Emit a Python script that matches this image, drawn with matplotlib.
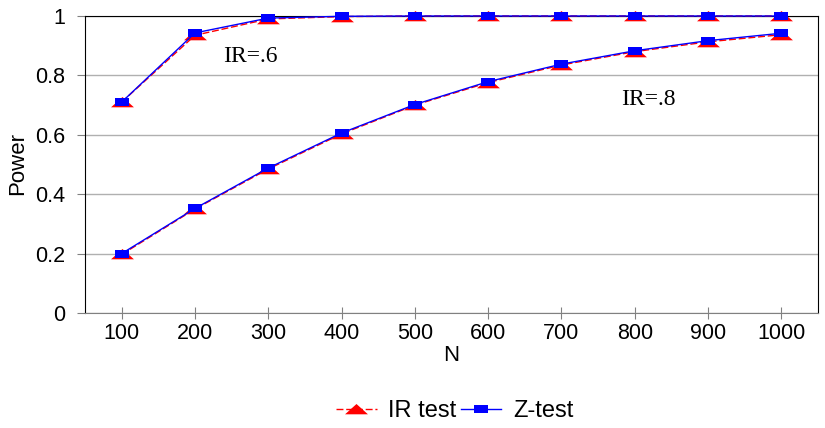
import matplotlib
matplotlib.use("Agg")
import matplotlib.pyplot as plt
import numpy as np
from matplotlib.lines import Line2D

N = ["100", "200", "300", "400", "500", "600", "700", "800", "900", "1000"]
ir_test_06 = [0.71, 0.935, 0.99, 0.998, 1.0, 1.0, 1.0, 1.0, 1.0, 1.0]
z_test_06 = [0.71, 0.943, 0.993, 0.999, 1.0, 1.0, 1.0, 1.0, 1.0, 1.0]
ir_test_08 = [0.197, 0.35, 0.485, 0.603, 0.70, 0.776, 0.835, 0.88, 0.913, 0.937]
z_test_08 = [0.2, 0.352, 0.488, 0.606, 0.702, 0.779, 0.838, 0.883, 0.917, 0.942]

plt.rcParams['font.family'] = ['Liberation Sans', 'DejaVu Sans']

fig = plt.figure(figsize=(8.25, 4.28), dpi=100)
ax = fig.add_axes([85/825, 1-313/428, (818-85)/825, (313-16)/428])

x = np.arange(len(N))
tri = [(-1, -0.42), (1, -0.42), (0, 0.48)]
sq = [(-1, -0.5), (1, -0.5), (1, 0.5), (-1, 0.5)]

for ir, z in [(ir_test_06, z_test_06), (ir_test_08, z_test_08)]:
    ax.plot(x, ir, color='red', linestyle=(0, (5, 2)), linewidth=1,
            marker=tri, markersize=16.5, markerfacecolor='red', markeredgecolor='red',
            markeredgewidth=0, zorder=3, clip_on=False)
    ax.plot(x, z, color='blue', linestyle='-', linewidth=1,
            marker=sq, markersize=10.5, markerfacecolor='blue', markeredgecolor='blue',
            markeredgewidth=0, zorder=4, clip_on=False)

ax.set_xlim(-0.5, len(N) - 0.5)
ax.set_ylim(0, 1)
ax.set_xticks(x)
ax.set_xticklabels(N)
ax.set_yticks(np.arange(0, 1.01, 0.2))
ax.set_yticklabels(["0", "0.2", "0.4", "0.6", "0.8", "1"])
ax.set_yticks(np.arange(0.1, 1.0, 0.2), minor=True)
ax.yaxis.grid(True, color='#b0b0b0', linewidth=1)
ax.set_axisbelow(True)
ax.tick_params(axis='x', direction='inout', length=8, color='#808080', labelsize=15.5, pad=3)
ax.tick_params(axis='y', which='major', direction='out', length=6, color='#808080', labelsize=15.5, pad=8)
ax.tick_params(axis='y', which='minor', direction='inout', length=3, color='white')
for s in ['left', 'top', 'right']:
    ax.spines[s].set_color('black')
ax.spines['bottom'].set_color('#808080')

ax.set_xlabel("N", fontsize=16, labelpad=1)
ax.set_ylabel("Power", fontsize=16)
ax.yaxis.set_label_coords(-0.078, 0.505)

serif = ['Liberation Serif', 'DejaVu Serif']
ax.text(1.75, 0.862, "IR=.6", fontsize=17, family=serif, ha='center', va='center')
ax.text(7.18, 0.72, "IR=.8", fontsize=17, family=serif, ha='center', va='center')

h1 = Line2D([], [], color='red', linestyle=(0, (5, 2)), linewidth=1, marker=tri, markersize=16.5,
            markerfacecolor='red', markeredgewidth=0)
h2 = Line2D([], [], color='blue', linestyle='-', linewidth=1, marker=sq, markersize=10.5,
            markerfacecolor='blue', markeredgewidth=0)
fig.legend([h1, h2], ["IR test", "Z-test"], loc='center', bbox_to_anchor=(455/825, 1-411/428),
           ncol=2, frameon=False, fontsize=17, handlelength=1.7, columnspacing=0.2,
           handletextpad=0.5, borderpad=0)

fig.savefig("out.png", dpi=100)
